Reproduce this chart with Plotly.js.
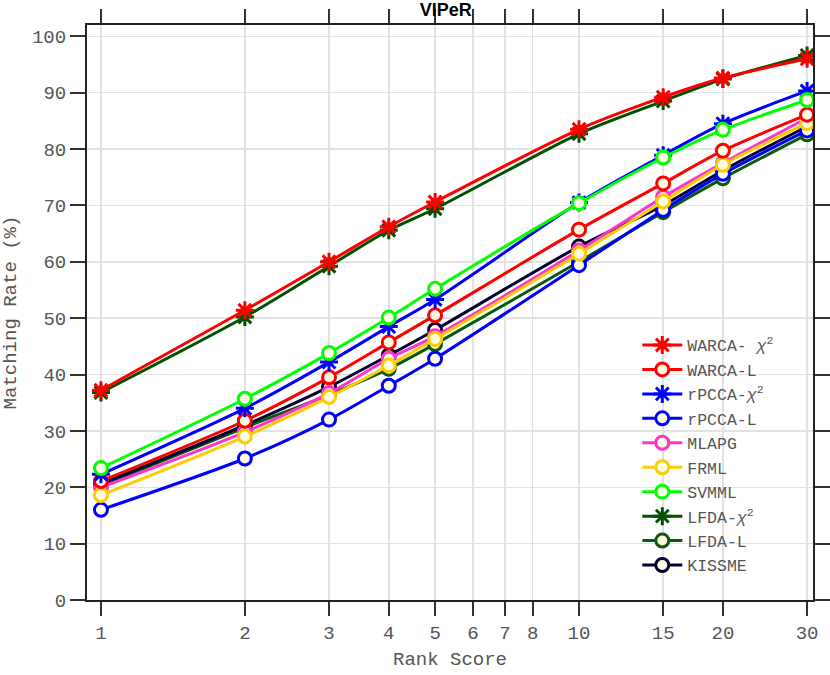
<!DOCTYPE html>
<html>
<head>
<meta charset="utf-8">
<script src="https://cdn.plot.ly/plotly-3.0.1.min.js"></script>
<style>html,body{margin:0;padding:0;background:#fff;}#chart{width:830px;height:675px;}</style>
</head>
<body>
<div id="chart"></div>
<script>
const ranks = [1, 2, 3, 4, 5, 10, 15, 20, 30];
const xTickVals = [1, 2, 3, 4, 5, 6, 7, 8, 10, 15, 20, 30];

const warcaChi = [37.2, 51.4, 60.0, 66.2, 70.6, 83.5, 89.2, 92.6, 96.0];
const warcaL   = [21.1, 31.8, 39.5, 45.7, 50.5, 65.7, 73.9, 79.7, 86.1];
const rpccaChi = [22.3, 34.0, 42.2, 48.5, 53.3, 70.5, 78.9, 84.5, 90.3];
const rpccaL   = [16.0, 25.1, 32.0, 38.0, 42.8, 59.4, 69.2, 75.6, 83.3];
const mlapg    = [20.0, 29.8, 36.7, 42.8, 46.8, 62.0, 71.5, 77.5, 85.5];
const frml     = [18.6, 29.0, 36.0, 41.6, 46.3, 61.4, 70.7, 77.2, 84.6];
const svmml    = [23.4, 35.7, 43.8, 50.1, 55.2, 70.4, 78.5, 83.4, 88.7];
const lfdaChi  = [36.8, 50.2, 59.2, 65.6, 69.4, 82.7, 88.5, 92.4, 96.6];
const lfdaL    = [20.3, 30.6, 36.4, 41.0, 45.4, 60.0, 68.8, 74.8, 82.6];
const kissme   = [20.6, 31.0, 37.8, 43.4, 47.9, 62.7, 70.0, 76.2, 84.0];

const FILL = '#FFFCE4';
function series(name, y, color, star, rank) {
  return {
    type: 'scatter', mode: 'lines+markers', name: name, x: ranks, y: y,
    legendrank: rank,
    line: {color: color, width: 3, shape: 'spline', smoothing: 0.8},
    marker: star
      ? {symbol: 'asterisk-open', size: 15, color: color, line: {color: color, width: 3}}
      : {symbol: 'circle', size: 13, color: FILL, line: {color: color, width: 3}}
  };
}
const chi = '<i>χ</i><sup>2</sup>';
const data = [
  series('LFDA-L', lfdaL, '#0B5A0B', false, 9),
  series('KISSME', kissme, '#000033', false, 10),
  series('rPCCA-L', rpccaL, '#0000FF', false, 4),
  series('MLAPG', mlapg, '#FF33CC', false, 5),
  series('FRML', frml, '#FFCC00', false, 6),
  series('WARCA-L', warcaL, '#FF0000', false, 2),
  series('rPCCA-' + chi, rpccaChi, '#0000FF', true, 3),
  series('SVMML', svmml, '#00FF00', false, 7),
  series('LFDA-' + chi, lfdaChi, '#005000', true, 8),
  series('WARCA- ' + chi, warcaChi, '#FF0000', true, 1)
];

const monoFont = '"Courier New", "Liberation Mono", monospace';
const layout = {
  width: 830, height: 675,
  margin: {l: 87, r: 17, t: 25, b: 75},
  paper_bgcolor: '#fff', plot_bgcolor: '#fff',
  title: {text: '<b>VIPeR</b>', x: 0.537, xanchor: 'center', y: 0.986, yanchor: 'middle',
          font: {family: '"Liberation Sans", Arial, sans-serif', size: 18, color: '#000'}},
  xaxis: {
    type: 'log', range: [Math.log10(0.935), Math.log10(30.87)],
    tickvals: xTickVals, ticktext: xTickVals.map(String),
    ticks: 'outside', ticklen: 14, tickwidth: 2, tickcolor: '#333',
    showline: true, linecolor: '#222', linewidth: 2, mirror: 'ticks',
    showgrid: true, gridcolor: '#E2E2E2', gridwidth: 1.5, zeroline: false,
    tickfont: {family: monoFont, size: 19, color: '#555'},
    title: {text: 'Rank Score', font: {family: monoFont, size: 19, color: '#555'}, standoff: 8}
  },
  yaxis: {
    range: [0, 102], tickvals: [0,10,20,30,40,50,60,70,80,90,100],
    ticks: 'outside', ticklen: 15, tickwidth: 2, tickcolor: '#333',
    showline: true, linecolor: '#222', linewidth: 2, mirror: 'ticks',
    showgrid: true, gridcolor: '#E2E2E2', gridwidth: 1.5, zeroline: false,
    tickfont: {family: monoFont, size: 19, color: '#555'},
    title: {text: 'Matching Rate (%)', font: {family: monoFont, size: 19, color: '#555'}, standoff: 10}
  },
  legend: {
    x: 0.758, y: 0.03, xanchor: 'left', yanchor: 'bottom',
    bgcolor: 'rgba(0,0,0,0)', borderwidth: 0,
    font: {family: monoFont, size: 16.5, color: '#555'},
    traceorder: 'normal', itemwidth: 40, tracegroupgap: 0
  },
  showlegend: true
};
Plotly.newPlot('chart', data, layout, {displayModeBar: false, staticPlot: true});
</script>
</body>
</html>
